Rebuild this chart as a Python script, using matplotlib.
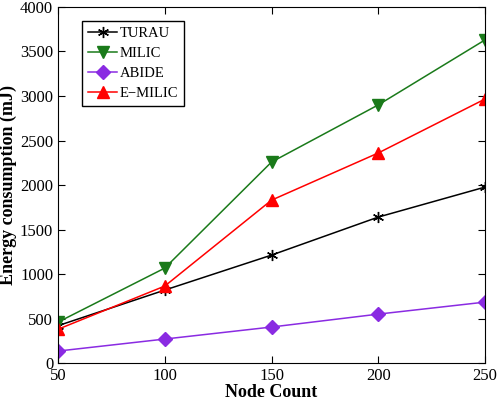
import matplotlib
matplotlib.use('Agg')
import matplotlib.pyplot as plt

plt.rcParams['font.family'] = ['Liberation Serif', 'DejaVu Serif']

nodos = [50, 100, 150, 200, 250]
turau = [420, 820, 1213, 1640, 1977]
milic = [460, 1067, 2258, 2900, 3630]
abide = [135, 270, 405, 550, 685]
e_milic = [380, 865, 1830, 2360, 2966]

fig = plt.figure(figsize=(5.0, 3.99), dpi=100)
ax = fig.add_axes([0.116, 0.09, 0.854, 0.8925])

ax.plot(nodos, turau, color='black', marker=(6, 2, 0), markersize=8, lw=1.1, label='TURAU')
ax.plot(nodos, milic, color='#1a7a1a', marker='v', markersize=8, lw=1.1, label='MILIC')
ax.plot(nodos, abide, color='#8a2be2', marker='D', markersize=7, lw=1.1, label='ABIDE')
ax.plot(nodos, e_milic, color='red', marker='^', markersize=9, lw=1.1, label='E\u2212MILIC')

ax.set_xlim(50, 250)
ax.set_ylim(0, 4000)
ax.set_xticks(nodos)
ax.set_yticks(range(0, 4001, 500))
ax.tick_params(direction='in', top=True, right=True, labelsize=12, length=5)
ax.set_xlabel('Node Count', fontsize=13, fontweight='bold', labelpad=0)
ax.set_ylabel('Energy consumption (mJ)', fontsize=13, fontweight='bold', labelpad=2)

leg = ax.legend(loc='upper left', bbox_to_anchor=(0.038, 0.982), fontsize=10.5,
                fancybox=False, edgecolor='black', framealpha=1,
                handlelength=2.0, borderpad=0.45, labelspacing=0.45, handletextpad=0.15)
leg.get_frame().set_linewidth(1.0)

fig.savefig('out.png', dpi=100)
